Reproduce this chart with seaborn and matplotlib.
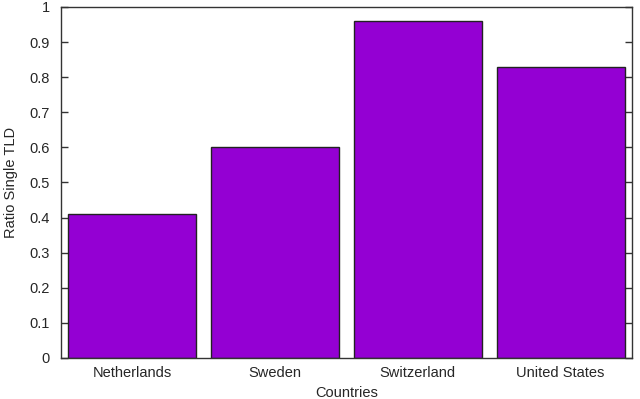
import matplotlib
matplotlib.use('Agg')
import matplotlib.pyplot as plt
import seaborn as sns
import pandas as pd

# --- Data ---
countries = ['Netherlands', 'Sweden', 'Switzerland', 'United States']
ratios = [0.41, 0.60, 0.96, 0.83]
y_ticks = [0, 0.1, 0.2, 0.3, 0.4, 0.5, 0.6, 0.7, 0.8, 0.9, 1]
y_labels = ['0', '0.1', '0.2', '0.3', '0.4', '0.5', '0.6', '0.7', '0.8', '0.9', '1']

df = pd.DataFrame({'Country': countries, 'Ratio': ratios})

sns.set_style('white')
plt.rcParams['font.family'] = ['Liberation Sans', 'DejaVu Sans']
FS = 10.5

fig = plt.figure(figsize=(6.4, 3.99), dpi=100)
ax = fig.add_axes([0.0953, 0.1028, 0.8922, 0.8797])

sns.barplot(data=df, x='Country', y='Ratio', color='#9400d3', saturation=1,
            width=0.895, edgecolor='#222222', linewidth=1, ax=ax)

ax.set_xlim(-0.5, 3.5)
ax.set_ylim(0, 1)
ax.set_yticks(y_ticks)
ax.set_yticklabels(y_labels)
ax.set_xlabel('Countries', fontsize=FS, labelpad=4)
ax.set_ylabel('Ratio Single TLD', fontsize=FS, labelpad=8)

ax.tick_params(axis='y', direction='in', length=5, width=1, color='#333333',
               left=True, right=True, labelsize=FS, pad=8)
ax.tick_params(axis='x', length=0, labelsize=FS, pad=6)
for s in ax.spines.values():
    s.set_color('#333333')
    s.set_linewidth(1)

fig.savefig('out.png', dpi=100)
